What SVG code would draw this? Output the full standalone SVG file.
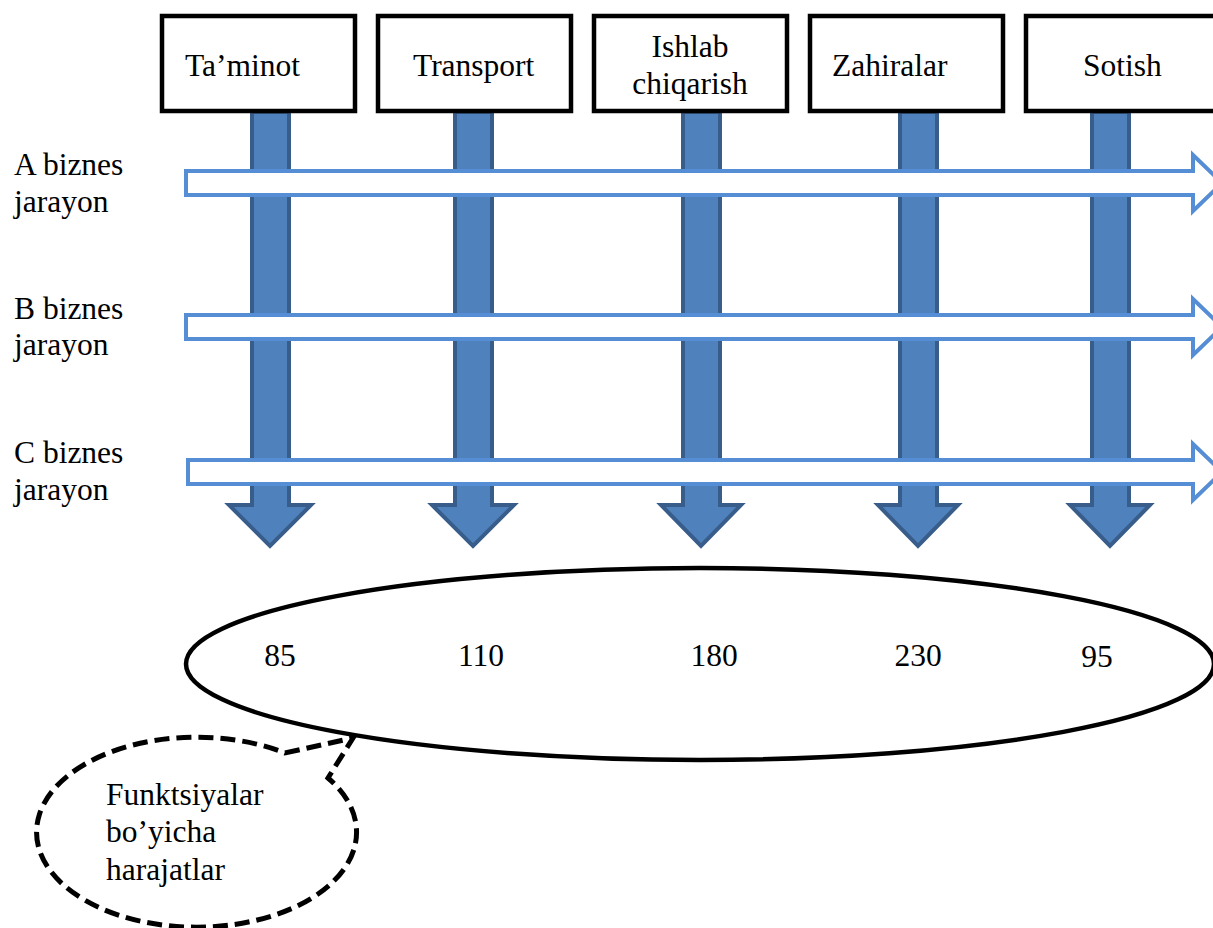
<svg xmlns="http://www.w3.org/2000/svg" width="1213" height="928" viewBox="0 0 1213 928">
<style>
text{font-family:"Liberation Serif","Times New Roman",serif;font-size:31.5px;fill:#000}
.box{fill:#fff;stroke:#000;stroke-width:4.5}
.va{fill:#4f81bd;stroke:#385d8a;stroke-width:4;stroke-linejoin:miter}
.ha{fill:#fff;stroke:#558ed5;stroke-width:4;stroke-linejoin:miter}
.mid{text-anchor:middle}
</style>
<rect width="1213" height="928" fill="#fff"/>
<g id="connectors">
<polygon class="va" points="252,112 289,112 289,505 311,505 270,546 229,505 252,505"/>
<polygon class="va" points="455,112 492,112 492,505 514,505 473,546 432,505 455,505"/>
<polygon class="va" points="683,112 720,112 720,505 741,505 701,546 661,505 683,505"/>
<polygon class="va" points="900,112 937,112 937,505 958,505 918,546 878,505 900,505"/>
<polygon class="va" points="1092,112 1129,112 1129,505 1150,505 1110,546 1070,505 1092,505"/>
</g>
<g id="box-taminot"><rect class="box" x="162" y="16" width="193" height="95"/><text x="185" y="76">Ta’minot</text></g>
<g id="box-transport"><rect class="box" x="378" y="16" width="193" height="95"/><text x="413" y="76">Transport</text></g>
<g id="box-ishlab"><rect class="box" x="594" y="16" width="193" height="95"/><text class="mid" x="690" y="57">Ishlab</text><text class="mid" x="690" y="94">chiqarish</text></g>
<g id="box-zahiralar"><rect class="box" x="810" y="16" width="193" height="95"/><text x="832" y="76">Zahiralar</text></g>
<g id="box-sotish"><rect class="box" x="1026" y="16" width="193" height="95"/><text x="1083" y="76">Sotish</text></g>
<g id="process-a"><polygon class="ha" points="186,171 1193,171 1193,155 1222,183 1193,211 1193,195 186,195"/><text x="14" y="175">A biznes</text><text x="14" y="212">jarayon</text></g>
<g id="process-b"><polygon class="ha" points="186,315 1193,315 1193,299 1222,327 1193,355 1193,339 186,339"/><text x="14" y="319">B biznes</text><text x="14" y="355">jarayon</text></g>
<g id="process-c"><polygon class="ha" points="188,460 1193,460 1193,444 1222,472 1193,500 1193,484 188,484"/><text x="14" y="463">C biznes</text><text x="14" y="500">jarayon</text></g>
<g id="costs"><ellipse cx="700" cy="664" rx="514" ry="96" fill="#fff" stroke="#000" stroke-width="4.5"/>
<text class="mid" x="280" y="666">85</text><text class="mid" x="481" y="666">110</text><text class="mid" x="714" y="666">180</text><text class="mid" x="918" y="666">230</text><text class="mid" x="1097" y="667">95</text></g>
<g id="callout"><path d="M 285 753 L 353 738 L 328 778 A 160 95 0 1 1 285 753 Z" fill="#fff" stroke="#000" stroke-width="5" stroke-dasharray="15,7"/>
<text x="106" y="805">Funktsiyalar</text><text x="106" y="842">bo’yicha</text><text x="106" y="880">harajatlar</text></g>
</svg>
